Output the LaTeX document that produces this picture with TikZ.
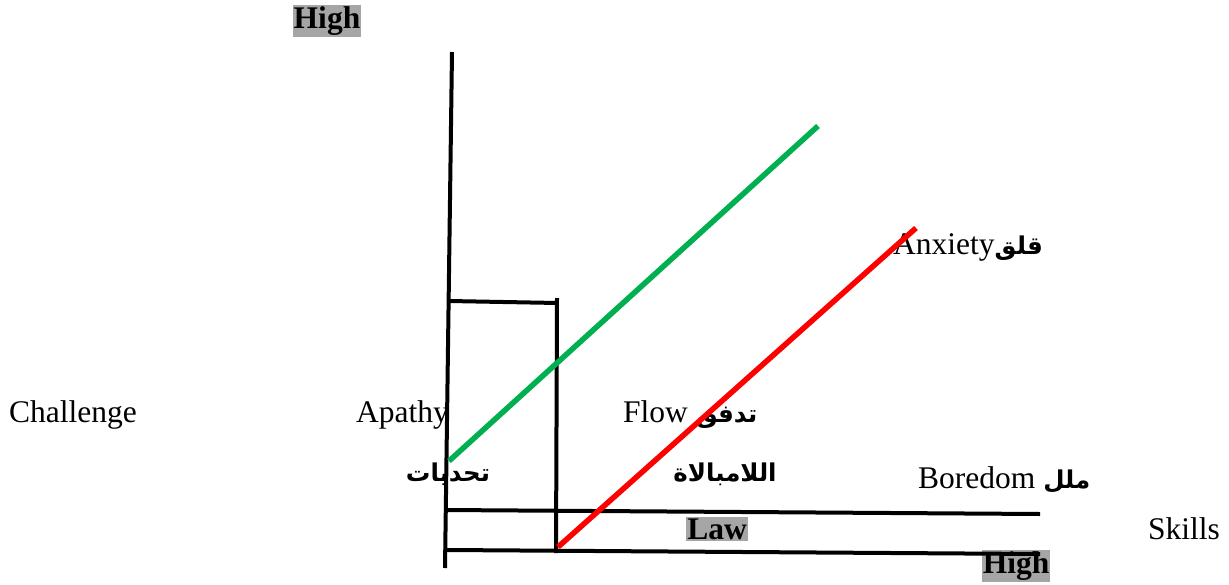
\documentclass[tikz,border=0pt]{standalone}
\usepackage{fontspec}
\setmainfont{Liberation Serif}
\newfontfamily\arabicfont[Script=Arabic]{DejaVu Sans}
\TeXXeTstate=1
\definecolor{flowgreen}{RGB}{0,176,80}
\definecolor{labelgray}{RGB}{166,166,166}
\newcommand{\artext}[1]{{\arabicfont\bfseries\fontsize{24.5}{30}\selectfont\beginR #1\endR}}

\begin{document}
\begin{tikzpicture}[x=1pt, y=-1pt, every node/.style={font=\fontsize{31.5}{38}\selectfont, inner sep=0pt},
	axis/.style={line width=4pt}, hilabel/.style={fill=labelgray, inner xsep=1pt, inner ysep=2pt, font=\fontsize{31.5}{38}\selectfont\bfseries}]
	\useasboundingbox (0,0) rectangle (1229,584);
	% labels
	\node[hilabel] (hightop) at (327,21) {High};
	\node[anchor=west] (challenge) at (9,415) {Challenge};
	\node[anchor=east] (apathy) at (449,415) {Apathy};
	\node[anchor=west] (flow) at (623,415) {Flow \artext{تدفق}};
	\node (challengear) at (448,474) {\artext{تحديات}};
	\node (apathyar) at (725,474) {\artext{اللامبالاة}};
	\node[anchor=west] (boredom) at (918,480) {Boredom \artext{ملل}};
	\node[anchor=west] (anxiety) at (893,247) {Anxiety\artext{قلق}};
	\node[hilabel] (law) at (717,529) {Law};
	\node[anchor=east] (skills) at (1220,529) {Skills};
	\node[hilabel] (highbottom) at (1016,566) {High};
	% axes and box
	\draw[axis] (452,52) -- (445,568);
	\draw[axis] (449,301) -- (558,303);
	\draw[axis] (557,298) -- (556,553);
	\draw[axis] (445,510) -- (1040,514);
	\draw[axis] (447,550) -- (1040,554);
	% channels
	\draw[flowgreen, line width=5.5pt] (449,461) -- (818,126);
	\draw[red, line width=5.5pt] (558,547) -- (916,228);
\end{tikzpicture}
\end{document}
